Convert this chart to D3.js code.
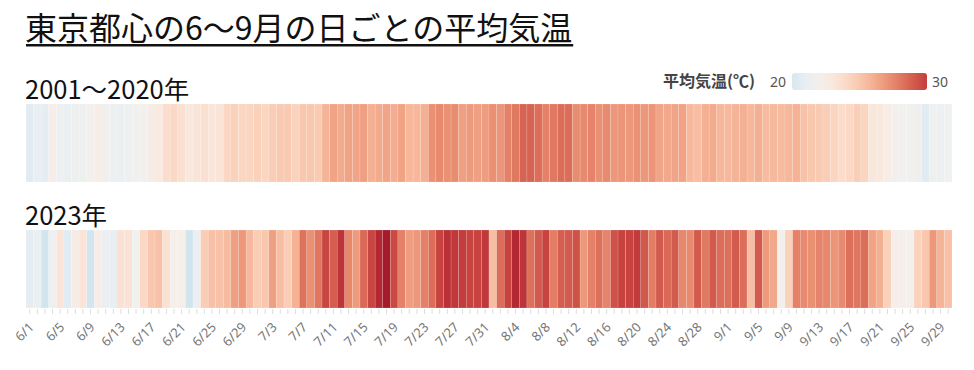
<!DOCTYPE html>
<html>
<head>
<meta charset="utf-8">
<style>
  body { margin: 0; background: #fff; }
  svg text { font-family: "Noto Sans CJK JP", "Noto Sans", sans-serif; }
  .axis path { display: none; }
  .axis line { stroke: #ddd; }
  .axis text { font-family: "Noto Sans", sans-serif; font-size: 13px; fill: #777; }
</style>
</head>
<body>
<svg width="974" height="370"></svg>
<script src="https://cdn.jsdelivr.net/npm/d3@7"></script>
<script>
// daily mean temperature (°C), 6/1 .. 9/30
var avg2001_2020 = [
  20.6, 21.0, 20.8, 22.4, 21.4, 21.2, 21.5, 21.5, 22.0, 22.5,
  21.8, 21.4, 21.3, 21.5, 21.7, 22.0, 22.6, 22.9, 23.8, 24.1,
  23.6, 23.0, 23.3, 23.6, 23.2, 23.3, 24.2, 24.5, 24.2, 24.3,
  24.5, 24.3, 24.7, 24.9, 24.9, 24.4, 25.0, 25.0, 24.8, 25.8,
  26.5, 26.2, 26.5, 26.4, 26.6, 26.0, 26.2, 26.4, 26.1, 26.5,
  25.7, 25.7, 26.0, 27.2, 27.4, 27.2, 27.3, 26.6, 26.8, 26.6,
  26.7,
  27.2, 27.0, 27.7, 28.0, 28.7, 28.7, 28.4, 27.7, 28.0, 28.4,
  28.4, 27.3, 27.4, 27.6, 27.2, 27.4, 26.9, 27.0, 26.9, 27.1,
  26.9, 27.0, 26.4, 26.3, 26.4, 26.5, 25.6, 25.4, 26.0, 26.2,
  25.7,
  25.6, 25.8, 26.0, 25.7, 26.0, 25.5, 25.6, 25.5, 25.7, 25.9,
  25.2, 25.0, 24.9, 24.7, 24.3, 23.9, 24.1, 24.6, 24.3, 23.1,
  23.0, 22.5, 22.0, 21.7, 21.7, 21.8, 20.6, 21.5, 21.4, 21.6
];

var y2023 = [
  20.8, 21.2, 19.7, 21.4, 23.3, 20.5, 22.6, 23.3, 19.8, 22.4,
  21.3, 21.0, 23.5, 23.4, 21.7, 24.1, 25.0, 25.2, 23.5, 22.3,
  22.3, 19.7, 21.3, 24.7, 25.3, 25.2, 25.5, 26.6, 26.9, 25.6,
  24.7, 25.0, 26.6, 25.4, 24.7, 25.9, 28.2, 27.2, 28.1, 29.7,
  28.9, 30.3, 27.5, 26.8, 28.5, 29.7, 30.8, 31.4, 29.6, 27.7,
  26.7, 26.9, 27.7, 28.4, 29.8, 30.5, 30.2, 30.0, 29.8, 29.8,
  30.2,
  25.4, 28.4, 29.8, 30.8, 30.3, 28.3, 29.0, 29.8, 27.8, 28.9,
  29.0, 29.3, 26.9, 27.7, 28.3, 27.6, 29.3, 29.8, 29.8, 30.1,
  29.1, 27.8, 29.0, 28.5, 29.0, 27.5, 27.4, 29.0, 28.0, 29.0,
  28.4,
  28.3, 29.0, 28.4, 25.4, 29.0, 26.8, 26.3, 22.0, 24.5, 27.7,
  27.4, 27.2, 27.6, 27.5, 27.0, 27.4, 28.3, 28.1, 28.4, 26.5,
  26.0, 24.5, 22.2, 22.2, 22.0, 24.5, 25.0, 26.9, 25.8, 25.3
];

var rows = [
  {label: "2001〜2020年", values: avg2001_2020},
  {label: "2023年", values: y2023}
];
var legendTicks = [20, 30];
var title = "東京都心の6〜9月の日ごとの平均気温";

var days = d3.timeDays(new Date(2023, 5, 1), new Date(2023, 9, 1));
var fmt = function(d){ return (d.getMonth() + 1) + "/" + d.getDate(); };

var svg = d3.select("svg");

var x = d3.scaleBand()
  .domain(days.map(fmt))
  .range([26, 952]);

var color = function(v){
  return d3.interpolateRdBu((33.5 - v) / 23.3);
};

// title
var t = svg.append("text")
  .attr("x", 25).attr("y", 40)
  .attr("font-size", 32)
  .attr("fill", "#111")
  .text(title);
var tw = t.node().getComputedTextLength();
svg.append("rect")
  .attr("x", 26).attr("y", 44)
  .attr("width", tw).attr("height", 2.5)
  .attr("fill", "#111");

// strips
var stripTop = [104, 230], stripH = 78;
rows.forEach(function(r, k){
  svg.append("text")
    .attr("x", 25).attr("y", stripTop[k] - 5)
    .attr("font-size", 25.5)
    .attr("fill", "#111")
    .text(r.label);

  svg.append("g")
    .selectAll("rect")
    .data(r.values)
    .enter()
    .append("rect")
    .attr("x", function(d, i){ return x(fmt(days[i])); })
    .attr("y", stripTop[k])
    .attr("width", x.bandwidth())
    .attr("height", stripH)
    .attr("fill", function(d){ return color(d); })
    .attr("stroke", "#fff")
    .attr("stroke-width", 0.4)
    .attr("stroke-opacity", 0.35);
});

// day axis
var axis = svg.append("g")
  .attr("class", "axis")
  .attr("transform", "translate(0," + (stripTop[1] + stripH + 1) + ")")
  .call(d3.axisBottom(x)
    .tickSize(5)
    .tickFormat(function(d, i){ return i % 4 === 0 ? d : ""; }));
axis.selectAll("text")
  .attr("y", 0).attr("dy", 0)
  .attr("text-anchor", "end")
  .attr("transform", "translate(5,19) rotate(-45)");

// legend
var lg = svg.append("g");
var defs = svg.append("defs");
var grad = defs.append("linearGradient").attr("id", "lgGrad");
d3.range(0, 1.0001, 0.1).forEach(function(p){
  grad.append("stop")
    .attr("offset", p)
    .attr("stop-color", color(legendTicks[0] + p * (legendTicks[1] - legendTicks[0])));
});
lg.append("text")
  .attr("x", 663).attr("y", 87)
  .attr("font-size", 16)
  .attr("font-weight", "bold")
  .attr("fill", "#444")
  .text("平均気温(℃)");
lg.append("text")
  .attr("x", 770).attr("y", 87)
  .attr("font-size", 14)
  .attr("fill", "#555")
  .style("font-family", "Noto Sans, sans-serif")
  .text(legendTicks[0]);
lg.append("rect")
  .attr("x", 792).attr("y", 73)
  .attr("width", 135).attr("height", 17)
  .attr("rx", 3)
  .attr("fill", "url(#lgGrad)");
lg.append("text")
  .attr("x", 932).attr("y", 87)
  .attr("font-size", 14)
  .attr("fill", "#555")
  .style("font-family", "Noto Sans, sans-serif")
  .text(legendTicks[1]);
</script>
</body>
</html>
